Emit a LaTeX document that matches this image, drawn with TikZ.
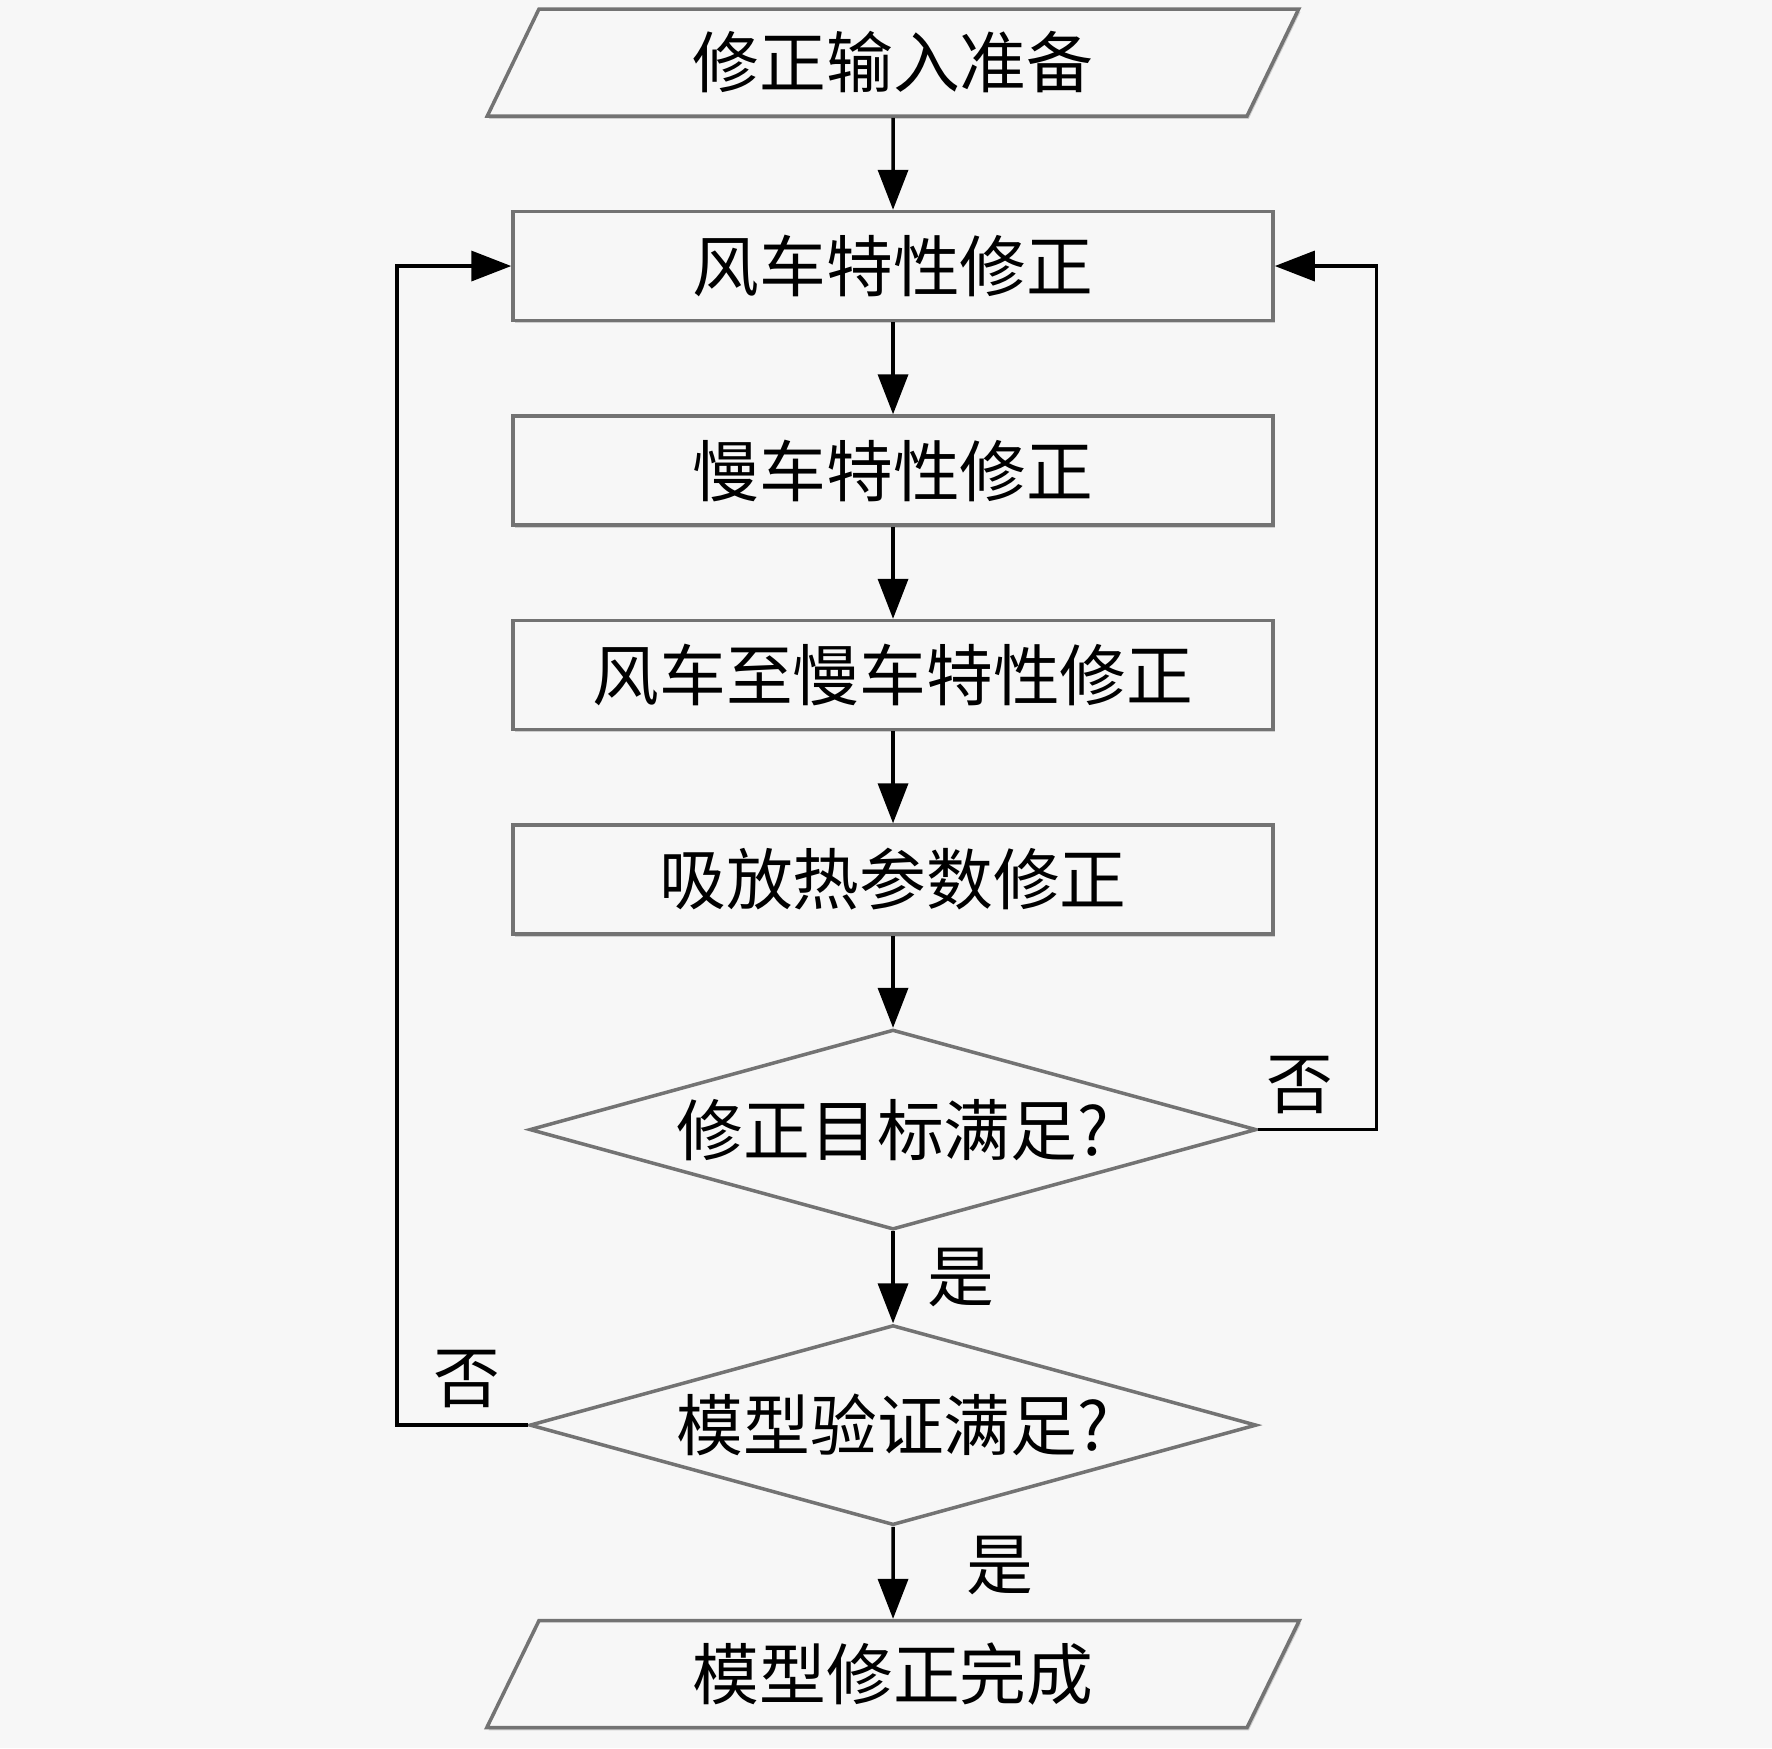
\documentclass[tikz,border=0pt]{standalone}
\usepackage{fontspec}
\newfontfamily\cjk{Noto Sans CJK SC}
\usepackage{tikz}
\usetikzlibrary{shapes.geometric,positioning,arrows.meta,shadows}
\definecolor{hgrund}{gray}{0.97}
\definecolor{rahmen}{gray}{0.45}

\begin{document}
\begin{tikzpicture}[
x=1cm, y=1cm,
font=\cjk\fontsize{19}{21}\selectfont,
>={Triangle[length=0.4cm,width=0.3cm]},   %Voreinstellung fuer Pfeilspitzen
node distance=0.92cm,
kasten/.style={rectangle, draw=rahmen, line width=1pt, fill=hgrund, minimum width=7.6cm, minimum height=1.09cm, drop shadow={shadow xshift=0.5pt, shadow yshift=-0.8pt, fill=gray!70}},
ein/.style={trapezium, trapezium left angle=70, trapezium right angle=110, trapezium stretches=true, draw=rahmen, line width=1pt, fill=hgrund, minimum width=8.13cm, minimum height=1.07cm, drop shadow={shadow xshift=0.5pt, shadow yshift=-0.8pt, fill=gray!70}},
raute/.style={diamond, aspect=3.6, draw=rahmen, line width=1pt, fill=hgrund, inner sep=0pt, minimum width=7.27cm, minimum height=2cm},
pfeil/.style={->, line width=1pt}
]
\def\xm{8.93}

% Hintergrund
\fill[hgrund] (0,0) rectangle (17.72,-17.48);
\useasboundingbox (0,0) rectangle (17.72,-17.48);

% Knoten
\node[ein] (inp) at (\xm,-0.625) {修正输入准备};
\node[kasten, below=of inp] (fc) {风车特性修正};
\node[kasten, below=of fc] (mc) {慢车特性修正};
\node[kasten, below=of mc] (fm) {风车至慢车特性修正};
\node[kasten, below=of fm] (hp) {吸放热参数修正};
\node[raute, below=of hp] (ziel) {修正目标满足?};
\node[raute, below=of ziel] (valid) {模型验证满足?};
\node[ein, below=of valid] (fertig) {模型修正完成};

% Pfeile
\draw[pfeil] (inp) -- (fc);
\draw[pfeil] (fc) -- (mc);
\draw[pfeil] (mc) -- (fm);
\draw[pfeil] (fm) -- (hp);
\draw[pfeil] (hp) -- (ziel);
\draw[pfeil] (ziel) -- (valid);
\draw[pfeil] (valid) -- (fertig);

% Rueckfuehrungen
\draw[pfeil] (ziel.east) -- ++(1.18,0) |- (fc.east);
\draw[pfeil] (valid.west) -- ++(-1.31,0) |- (fc.west);

% Beschriftungen
\node (nein1) at (13.0,-10.85) {否};
\node (nein2) at (4.67,-13.79) {否};
\node (ja1) at (9.61,-12.77) {是};
\node (ja2) at (10.0,-15.65) {是};
\end{tikzpicture}
\end{document}
